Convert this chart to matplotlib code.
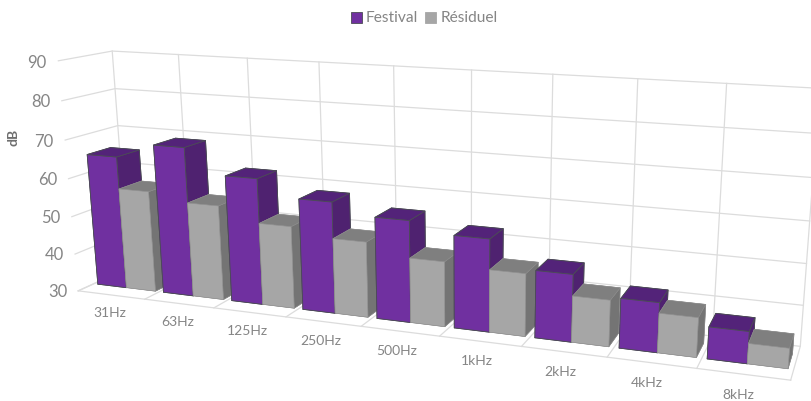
import numpy as np
import matplotlib
matplotlib.use('Agg')
import matplotlib.pyplot as plt
from matplotlib.patches import Patch

plt.rcParams['font.family'] = ['Lato', 'DejaVu Sans']

categories = ['31Hz', '63Hz', '125Hz', '250Hz', '500Hz', '1kHz', '2kHz', '4kHz', '8kHz']
festival = [65.1, 69.0, 62.6, 58.4, 55.6, 53, 46.5, 42, 37.6]
residuel = [56.7, 54.7, 51.2, 49.2, 46.3, 45.5, 41.3, 39.5, 34.8]
db_ticks = [30, 40, 50, 60, 70, 80, 90]

W, H = 811, 401

# camera: points of the chart box (category, depth, dB) and where they sit in the picture
box_pts = np.array([[0, 0, 30], [9, 0, 30], [9, 1, 30], [0, 0, 90], [0, 1, 90],
                    [9, 1, 90], [0, 1, 30], [4, 1, 90], [0, 1, 70], [0, 0, 60], [4, 0, 30]], dtype=float)
pix_pts = np.array([[78, 290], [791, 381], [800, 345], [59, 62], [112, 50],
                    [820, 89], [129, 270], [393, 66], [118, 125], [68, 178], [361, 326]], dtype=float)

A, b = [], []
for (x, y, z), (u, v) in zip(box_pts, pix_pts):
    A.append([x, y, z, 1, 0, 0, 0, 0, -u*x, -u*y, -u*z])
    A.append([0, 0, 0, 0, x, y, z, 1, -v*x, -v*y, -v*z])
    b += [u, v]
p = np.linalg.lstsq(np.array(A), np.array(b), rcond=None)[0]
P = np.append(p, 1).reshape(3, 4)
M = np.array([P[0], P[1], P[2] - [0, 0, 0, 1], P[2]])


def to_fig(x, y, z):
    u, v, w = P @ [x, y, z, 1]
    return u/w/W, 1 - v/w/H


fig = plt.figure(figsize=(W/100, H/100), dpi=100)
# square axes wider than the figure is tall, its 2D view is in picture pixels
ax = fig.add_axes([0, -(W-H)/2/H, 1, W/H], projection='3d', computed_zorder=False)
ax.set_axis_off()
ax.set_proj_type('ortho')  # only to stop lines being clipped to -1..1, the camera is M
ax.get_proj = lambda: M

grid_kw = dict(color='#dcdcdc', lw=0.9, zorder=5)
for z in db_ticks:
    ax.plot([0, 0, 9], [0, 1, 1], [z, z, z], **grid_kw)
for i in range(len(categories)+1):
    ax.plot([i, i, i], [0, 1, 1], [30, 30, 90], **grid_kw)
ax.plot([0, 9], [0, 0], [30, 30], **grid_kw)

bar_w = 0.44
bar_d = 0.45
gap = (1 - 2*bar_w) / 2
y0 = 0.3
purple = ['#7030a0', '#532379', '#7030a0', '#7030a0', '#7030a0', '#4f2270']
grey = ['#a6a6a6', '#7f7f7f', '#a6a6a6', '#a6a6a6', '#a6a6a6', '#747474']
for i in range(len(categories)):
    ax.bar3d(i+gap, y0, 30, bar_w, bar_d, festival[i]-30, color=purple, shade=False,
             edgecolor='#4b4b55', linewidth=0.6, zorder=10+2*i)
    ax.bar3d(i+gap+bar_w, y0, 30, bar_w, bar_d, residuel[i]-30, color=grey, shade=False,
             edgecolor='#8c8c8c', linewidth=0.4, zorder=11+2*i)

ax.viewLim.intervalx = (0, W)
ax.viewLim.intervaly = (H + (W-H)/2, -(W-H)/2)

text_col = '#858585'
for z in db_ticks:
    fx, fy = to_fig(-0.17, 0, z)
    fig.text(fx, fy - 2.5/H, str(z), ha='right', va='center', fontsize=12, color=text_col)
for i, c in enumerate(categories):
    fx, fy = to_fig(i+0.46, 0, 25.2)
    fig.text(fx, fy - 1/H, c, ha='center', va='center', fontsize=10, color=text_col)

fig.text(14/W, 1-137/H, 'dB', rotation=90, ha='center', va='center', fontsize=10,
         fontweight='bold', color='#6e6e6e')

handles = [Patch(facecolor='#7030a0', edgecolor='#4b4b55', lw=0.6, label='Festival'),
           Patch(facecolor='#a6a6a6', edgecolor='#a6a6a6', lw=0.6, label='Résiduel')]
fig.legend(handles=handles, loc='center', bbox_to_anchor=(424/W, 1-18.5/H), ncol=2, frameon=False,
           fontsize=11.2, labelcolor=text_col, handlelength=0.72, handleheight=0.72,
           handletextpad=0.25, columnspacing=0.45, borderpad=0)

fig.savefig('out.png', dpi=100)
